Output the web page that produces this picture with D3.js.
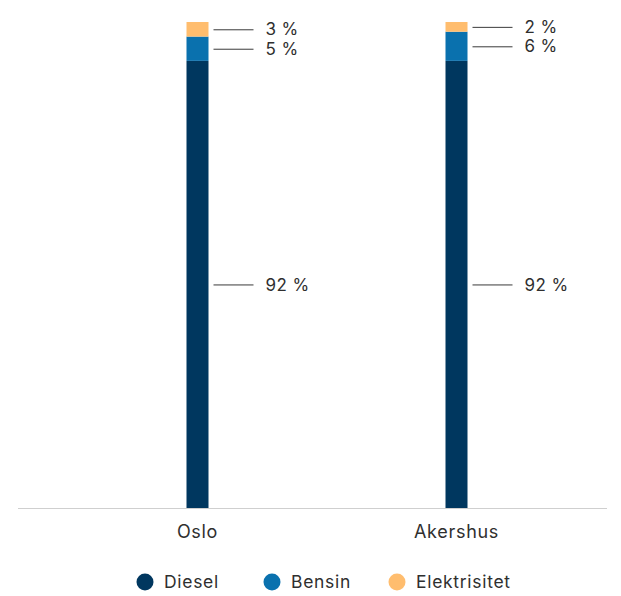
<!DOCTYPE html>
<html>
<head>
<meta charset="utf-8">
<script src="https://cdn.jsdelivr.net/npm/d3@7"></script>
<style>
  html, body { margin: 0; padding: 0; background: #fff; }
  svg { display: block; font-family: Inter, "Noto Sans", sans-serif; }
</style>
</head>
<body>
<svg id="chart" width="621" height="596"></svg>
<script>
// Fuel share per county, in percent
const categories = ["Oslo", "Akershus"];
const seriesNames = ["Diesel", "Bensin", "Elektrisitet"];
const diesel = [92, 92];
const bensin = [5, 6];
const elektrisitet = [3, 2];
const yTicks = [0, 100];

const colors = { Diesel: "#00375f", Bensin: "#0a71ae", Elektrisitet: "#ffbd6e" };

const rows = categories.map((c, i) => ({
  category: c,
  Diesel: diesel[i],
  Bensin: bensin[i],
  Elektrisitet: elektrisitet[i]
}));

const svg = d3.select("#chart");
const margin = { left: 18, right: 14, top: 22, bottom: 88 };
const width = 621, height = 596;
const plotBottom = height - margin.bottom;

const x = d3.scaleBand().domain(categories).range([68, 586]);
const y = d3.scaleLinear().domain(d3.extent(yTicks)).range([plotBottom, margin.top]);
const barWidth = 22;

const stack = d3.stack().keys(seriesNames)(rows);

// axis baseline
svg.append("line")
  .attr("x1", margin.left).attr("x2", width - margin.right)
  .attr("y1", plotBottom + 0.5).attr("y2", plotBottom + 0.5)
  .attr("stroke", "#cfcfcf").attr("stroke-width", 1);

// stacked bars
stack.forEach(layer => {
  svg.append("g").selectAll("rect").data(layer).join("rect")
    .attr("x", d => x(d.data.category) + x.bandwidth() / 2 - barWidth / 2)
    .attr("width", barWidth)
    .attr("y", d => y(d[1]))
    .attr("height", d => y(d[0]) - y(d[1]))
    .attr("fill", colors[layer.key]);
});

// value labels with leader lines
stack.forEach(layer => {
  const g = svg.append("g");
  layer.forEach(d => {
    const cx = x(d.data.category) + x.bandwidth() / 2;
    const my = (y(d[0]) + y(d[1])) / 2;
    g.append("line")
      .attr("x1", cx + 16).attr("x2", cx + 56)
      .attr("y1", my + 0.5).attr("y2", my + 0.5)
      .attr("stroke", "#3a3a3a").attr("stroke-width", 1);
    g.append("text")
      .attr("x", cx + 68).attr("y", my)
      .attr("dy", "0.36em")
      .attr("font-size", 17)
      .attr("letter-spacing", 0.4)
      .attr("fill", "#2f2f2f")
      .text(d.data[layer.key] + " %");
  });
});

// category labels
svg.append("g").selectAll("text").data(categories).join("text")
  .attr("x", d => x(d) + x.bandwidth() / 2)
  .attr("y", plotBottom + 24)
  .attr("dy", "0.36em")
  .attr("text-anchor", "middle")
  .attr("font-size", 18)
  .attr("letter-spacing", 0.7)
  .attr("fill", "#2f2f2f")
  .text(d => d);

// legend
const legendX = [145, 272, 397];
const lg = svg.append("g").selectAll("g").data(seriesNames).join("g")
  .attr("transform", (d, i) => `translate(${legendX[i]},582)`);
lg.append("circle").attr("r", 8.5).attr("fill", d => colors[d]);
lg.append("text")
  .attr("x", 19).attr("dy", "0.36em")
  .attr("font-size", 17.5).attr("letter-spacing", 0.7).attr("fill", "#2f2f2f")
  .text(d => d);
</script>
</body>
</html>
